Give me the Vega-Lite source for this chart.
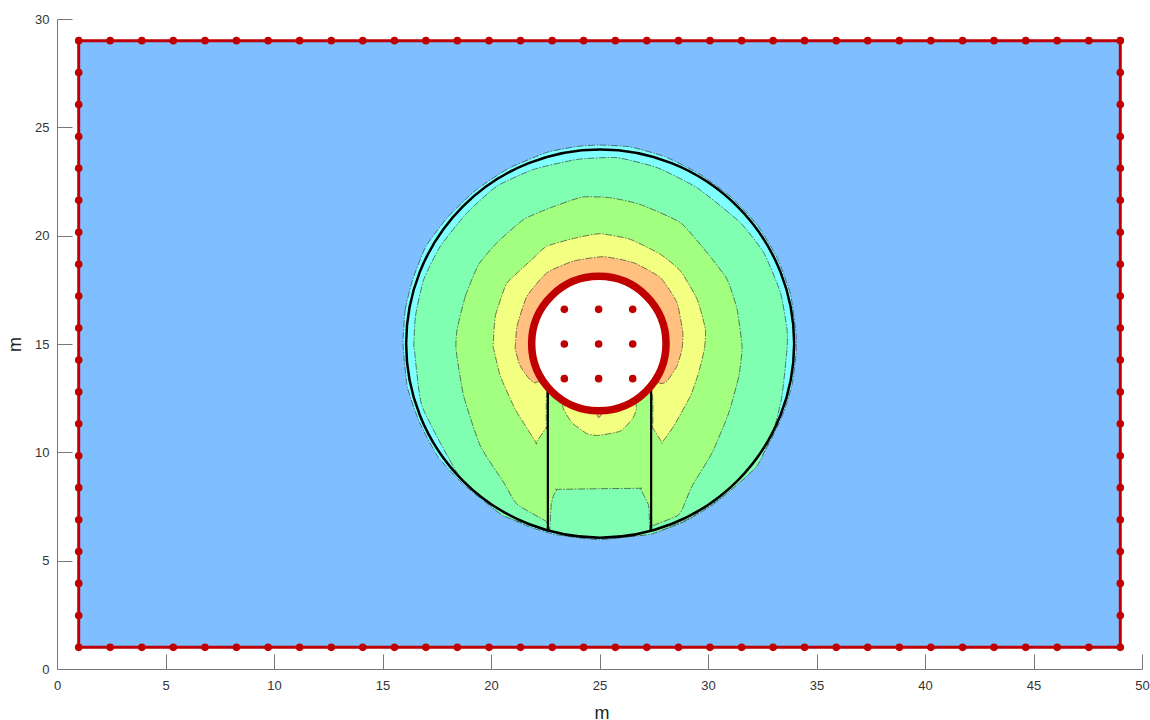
{"$schema":"https://vega.github.io/schema/vega-lite/v6.json","width":1085,"height":650,"autosize":"none","padding":{"left":57,"top":19,"right":8,"bottom":51},"background":"white","config":{"view":{"stroke":null}},
"datasets":{
"box":[{"x0":1,"x1":49,"y0":1,"y1":29}],
"zones":[
{"r":"cyan","l":"a","i":0,"x":15.95,"y":15.0},{"r":"cyan","l":"a","i":1,"x":16.05,"y":16.6},{"r":"cyan","l":"a","i":2,"x":16.4,"y":18.0},{"r":"cyan","l":"a","i":3,"x":17.0,"y":19.5},{"r":"cyan","l":"a","i":4,"x":18.0,"y":20.85},{"r":"cyan","l":"a","i":5,"x":19.3,"y":22.1},{"r":"cyan","l":"a","i":6,"x":20.8,"y":23.1},{"r":"cyan","l":"a","i":7,"x":22.6,"y":23.85},{"r":"cyan","l":"a","i":8,"x":24.0,"y":24.12},{"r":"cyan","l":"a","i":9,"x":25.0,"y":24.18},{"r":"cyan","l":"a","i":10,"x":26.4,"y":24.1},{"r":"cyan","l":"a","i":11,"x":28.0,"y":23.65},{"r":"cyan","l":"a","i":12,"x":29.6,"y":22.85},{"r":"cyan","l":"a","i":13,"x":31.1,"y":21.75},{"r":"cyan","l":"a","i":14,"x":32.3,"y":20.45},{"r":"cyan","l":"a","i":15,"x":33.2,"y":18.95},{"r":"cyan","l":"a","i":16,"x":33.8,"y":17.3},{"r":"cyan","l":"a","i":17,"x":34.05,"y":15.5},{"r":"cyan","l":"a","i":18,"x":34.05,"y":14.5},{"r":"cyan","l":"a","i":19,"x":33.85,"y":13},{"r":"cyan","l":"a","i":20,"x":33.35,"y":11.5},{"r":"cyan","l":"a","i":21,"x":32.55,"y":9.95},{"r":"cyan","l":"a","i":22,"x":31.45,"y":8.65},{"r":"cyan","l":"a","i":23,"x":30.25,"y":7.6},{"r":"cyan","l":"a","i":24,"x":29.0,"y":6.85},{"r":"cyan","l":"a","i":25,"x":28.0,"y":6.45},{"r":"cyan","l":"a","i":26,"x":27.0,"y":6.2},{"r":"cyan","l":"a","i":27,"x":25.0,"y":5.97},{"r":"cyan","l":"a","i":28,"x":23.0,"y":6.2},{"r":"cyan","l":"a","i":29,"x":21.6,"y":6.62},{"r":"cyan","l":"a","i":30,"x":20.2,"y":7.35},{"r":"cyan","l":"a","i":31,"x":18.7,"y":8.55},{"r":"cyan","l":"a","i":32,"x":17.55,"y":9.8},{"r":"cyan","l":"a","i":33,"x":16.7,"y":11.4},{"r":"cyan","l":"a","i":34,"x":16.15,"y":13},
{"r":"g1","l":"b","i":0,"x":16.44,"y":14.9},{"r":"g1","l":"b","i":1,"x":16.52,"y":16.29},{"r":"g1","l":"b","i":2,"x":16.9,"y":17.98},{"r":"g1","l":"b","i":3,"x":17.67,"y":19.52},{"r":"g1","l":"b","i":4,"x":18.9,"y":21.06},{"r":"g1","l":"b","i":5,"x":20.28,"y":22.29},{"r":"g1","l":"b","i":6,"x":21.97,"y":23.06},{"r":"g1","l":"b","i":7,"x":23.97,"y":23.52},{"r":"g1","l":"b","i":8,"x":25.81,"y":23.6},{"r":"g1","l":"b","i":9,"x":27.65,"y":23.14},{"r":"g1","l":"b","i":10,"x":29.5,"y":22.21},{"r":"g1","l":"b","i":11,"x":31.49,"y":20.6},{"r":"g1","l":"b","i":12,"x":32.57,"y":19.21},{"r":"g1","l":"b","i":13,"x":33.34,"y":17.37},{"r":"g1","l":"b","i":14,"x":33.64,"y":15.68},{"r":"g1","l":"b","i":15,"x":33.64,"y":14.75},{"r":"g1","l":"b","i":16,"x":33.41,"y":12.6},{"r":"g1","l":"b","i":17,"x":33.03,"y":11.06},{"r":"g1","l":"b","i":18,"x":32.26,"y":9.37},{"r":"g1","l":"b","i":19,"x":30.72,"y":7.98},{"r":"g1","l":"b","i":20,"x":29.19,"y":6.98},{"r":"g1","l":"b","i":21,"x":27.35,"y":6.22},{"r":"g1","l":"b","i":22,"x":24.89,"y":6.03},{"r":"g1","l":"b","i":23,"x":22.58,"y":6.37},{"r":"g1","l":"b","i":24,"x":20.59,"y":7.06},{"r":"g1","l":"b","i":25,"x":19.82,"y":7.68},{"r":"g1","l":"b","i":26,"x":18.44,"y":9.06},{"r":"g1","l":"b","i":27,"x":16.82,"y":12.14},{"r":"g1","l":"b","i":28,"x":16.47,"y":14.75},
{"r":"g2","l":"c","i":0,"x":18.44,"y":15.68},{"r":"g2","l":"c","i":1,"x":18.82,"y":17.21},{"r":"g2","l":"c","i":2,"x":19.43,"y":18.67},{"r":"g2","l":"c","i":3,"x":20.28,"y":19.68},{"r":"g2","l":"c","i":4,"x":21.51,"y":20.75},{"r":"g2","l":"c","i":5,"x":22.74,"y":21.29},{"r":"g2","l":"c","i":6,"x":24.2,"y":21.78},{"r":"g2","l":"c","i":7,"x":25.5,"y":21.75},{"r":"g2","l":"c","i":8,"x":26.88,"y":21.44},{"r":"g2","l":"c","i":9,"x":28.73,"y":20.6},{"r":"g2","l":"c","i":10,"x":29.96,"y":19.21},{"r":"g2","l":"c","i":11,"x":30.88,"y":17.98},{"r":"g2","l":"c","i":12,"x":31.34,"y":16.6},{"r":"g2","l":"c","i":13,"x":31.57,"y":14.85},{"r":"g2","l":"c","i":14,"x":31.42,"y":13.52},{"r":"g2","l":"c","i":15,"x":30.96,"y":11.83},{"r":"g2","l":"c","i":16,"x":30.19,"y":9.98},{"r":"g2","l":"c","i":17,"x":29.27,"y":8.45},{"r":"g2","l":"c","i":18,"x":28.81,"y":7.37},{"r":"g2","l":"c","i":19,"x":28.57,"y":7.06},{"r":"g2","l":"c","i":20,"x":27.42,"y":6.6},{"r":"g2","l":"c","i":21,"x":27.31,"y":6.45},{"r":"g2","l":"c","i":21.5,"x":27.31,"y":6.45},{"r":"g2","l":"c","i":22,"x":27.27,"y":7.52},{"r":"g2","l":"c","i":22.5,"x":27.05,"y":8.0},{"r":"g2","l":"c","i":23,"x":26.88,"y":8.34},{"r":"g2","l":"c","i":23.2,"x":26.88,"y":8.34},{"r":"g2","l":"c","i":23.5,"x":25,"y":8.32},{"r":"g2","l":"c","i":23.8,"x":23.04,"y":8.29},{"r":"g2","l":"c","i":24,"x":23.04,"y":8.29},{"r":"g2","l":"c","i":24.5,"x":22.88,"y":8.0},{"r":"g2","l":"c","i":25,"x":22.77,"y":7.52},{"r":"g2","l":"c","i":26,"x":22.71,"y":6.45},{"r":"g2","l":"c","i":26.5,"x":22.71,"y":6.45},{"r":"g2","l":"c","i":27,"x":22.51,"y":6.83},{"r":"g2","l":"c","i":28,"x":21.2,"y":7.6},{"r":"g2","l":"c","i":29,"x":20.59,"y":8.6},{"r":"g2","l":"c","i":30,"x":19.51,"y":10.29},{"r":"g2","l":"c","i":31,"x":18.74,"y":12.6},{"r":"g2","l":"c","i":32,"x":18.39,"y":14.75},
{"r":"yel","l":"d","i":0,"x":20.1,"y":14.9},{"r":"yel","l":"d","i":1,"x":20.2,"y":16.29},{"r":"yel","l":"d","i":2,"x":20.66,"y":17.68},{"r":"yel","l":"d","i":3,"x":20.89,"y":17.98},{"r":"yel","l":"d","i":4,"x":21.97,"y":18.98},{"r":"yel","l":"d","i":5,"x":22.58,"y":19.52},{"r":"yel","l":"d","i":6,"x":23.97,"y":19.91},{"r":"yel","l":"d","i":7,"x":25.04,"y":20.09},{"r":"yel","l":"d","i":8,"x":26.42,"y":19.83},{"r":"yel","l":"d","i":9,"x":27.81,"y":19.14},{"r":"yel","l":"d","i":10,"x":28.73,"y":18.37},{"r":"yel","l":"d","i":11,"x":29.5,"y":17.06},{"r":"yel","l":"d","i":12,"x":29.88,"y":15.68},{"r":"yel","l":"d","i":13,"x":29.83,"y":14.75},{"r":"yel","l":"d","i":14,"x":29.57,"y":13.68},{"r":"yel","l":"d","i":15,"x":29.19,"y":12.6},{"r":"yel","l":"d","i":16,"x":28.42,"y":11.21},{"r":"yel","l":"d","i":17,"x":27.88,"y":10.45},{"r":"yel","l":"d","i":17.5,"x":27.88,"y":10.45},{"r":"yel","l":"d","i":18,"x":27.45,"y":11.14},{"r":"yel","l":"d","i":18.5,"x":27.45,"y":11.14},{"r":"yel","l":"d","i":19,"x":27.42,"y":12.68},{"r":"yel","l":"d","i":20,"x":26.58,"y":13.21},{"r":"yel","l":"d","i":21,"x":26.7,"y":12.01},{"r":"yel","l":"d","i":22,"x":26.5,"y":11.52},{"r":"yel","l":"d","i":23,"x":25.96,"y":10.98},{"r":"yel","l":"d","i":24,"x":24.96,"y":10.78},{"r":"yel","l":"d","i":25,"x":24.43,"y":10.86},{"r":"yel","l":"d","i":26,"x":23.73,"y":11.37},{"r":"yel","l":"d","i":27,"x":23.32,"y":12.06},{"r":"yel","l":"d","i":28,"x":23.2,"y":13.21},{"r":"yel","l":"d","i":29,"x":22.58,"y":12.91},{"r":"yel","l":"d","i":30,"x":22.55,"y":11.14},{"r":"yel","l":"d","i":30.5,"x":22.55,"y":11.14},{"r":"yel","l":"d","i":31,"x":22.08,"y":10.45},{"r":"yel","l":"d","i":31.5,"x":22.08,"y":10.45},{"r":"yel","l":"d","i":32,"x":21.12,"y":11.98},{"r":"yel","l":"d","i":33,"x":20.43,"y":13.52},{"r":"yel","l":"d","i":34,"x":20.13,"y":14.75},
{"r":"ora","l":"e","i":0,"x":21.12,"y":14.91},{"r":"ora","l":"e","i":1,"x":21.2,"y":15.83},{"r":"ora","l":"e","i":2,"x":21.66,"y":17.21},{"r":"ora","l":"e","i":3,"x":22.58,"y":18.29},{"r":"ora","l":"e","i":4,"x":23.81,"y":18.83},{"r":"ora","l":"e","i":5,"x":25.19,"y":19.03},{"r":"ora","l":"e","i":6,"x":26.58,"y":18.75},{"r":"ora","l":"e","i":7,"x":27.81,"y":18.06},{"r":"ora","l":"e","i":8,"x":28.57,"y":16.91},{"r":"ora","l":"e","i":9,"x":28.84,"y":15.52},{"r":"ora","l":"e","i":10,"x":28.8,"y":14.75},{"r":"ora","l":"e","i":11,"x":28.57,"y":13.98},{"r":"ora","l":"e","i":12,"x":28.11,"y":13.29},{"r":"ora","l":"e","i":13,"x":27.73,"y":13.21},{"r":"ora","l":"e","i":14,"x":26.12,"y":14.29},{"r":"ora","l":"e","i":15,"x":23.81,"y":14.29},{"r":"ora","l":"e","i":16,"x":22.04,"y":13.21},{"r":"ora","l":"e","i":17,"x":21.35,"y":13.98},{"r":"ora","l":"e","i":18,"x":21.12,"y":14.75},
{"r":"ora2","l":"e","i":0,"x":24.8,"y":11.95},{"r":"ora2","l":"e","i":1,"x":24.97,"y":11.6},{"r":"ora2","l":"e","i":2,"x":25.2,"y":11.95}
],
"walls":[{"x":22.62,"y0":6.35,"y1":12.9},{"x":27.38,"y0":6.35,"y1":12.9}],
"outer":[{"x":25.03,"y":15.02}],
"inner":[{"x":24.97,"y":15.02}],
"nodes":[
{"x":1,"y":29},{"x":2.45,"y":29},{"x":3.91,"y":29},{"x":5.36,"y":29},{"x":6.82,"y":29},{"x":8.27,"y":29},{"x":9.73,"y":29},{"x":11.18,"y":29},{"x":12.64,"y":29},{"x":14.09,"y":29},{"x":15.55,"y":29},{"x":17,"y":29},{"x":18.45,"y":29},{"x":19.91,"y":29},{"x":21.36,"y":29},{"x":22.82,"y":29},{"x":24.27,"y":29},{"x":25.73,"y":29},{"x":27.18,"y":29},{"x":28.64,"y":29},{"x":30.09,"y":29},{"x":31.55,"y":29},{"x":33,"y":29},{"x":34.45,"y":29},{"x":35.91,"y":29},{"x":37.36,"y":29},{"x":38.82,"y":29},{"x":40.27,"y":29},{"x":41.73,"y":29},{"x":43.18,"y":29},{"x":44.64,"y":29},{"x":46.09,"y":29},{"x":47.55,"y":29},{"x":49,"y":29},
{"x":1,"y":1},{"x":2.45,"y":1},{"x":3.91,"y":1},{"x":5.36,"y":1},{"x":6.82,"y":1},{"x":8.27,"y":1},{"x":9.73,"y":1},{"x":11.18,"y":1},{"x":12.64,"y":1},{"x":14.09,"y":1},{"x":15.55,"y":1},{"x":17,"y":1},{"x":18.45,"y":1},{"x":19.91,"y":1},{"x":21.36,"y":1},{"x":22.82,"y":1},{"x":24.27,"y":1},{"x":25.73,"y":1},{"x":27.18,"y":1},{"x":28.64,"y":1},{"x":30.09,"y":1},{"x":31.55,"y":1},{"x":33,"y":1},{"x":34.45,"y":1},{"x":35.91,"y":1},{"x":37.36,"y":1},{"x":38.82,"y":1},{"x":40.27,"y":1},{"x":41.73,"y":1},{"x":43.18,"y":1},{"x":44.64,"y":1},{"x":46.09,"y":1},{"x":47.55,"y":1},{"x":49,"y":1},
{"x":1,"y":27.53},{"x":1,"y":26.05},{"x":1,"y":24.58},{"x":1,"y":23.11},{"x":1,"y":21.63},{"x":1,"y":20.16},{"x":1,"y":18.68},{"x":1,"y":17.21},{"x":1,"y":15.74},{"x":1,"y":14.26},{"x":1,"y":12.79},{"x":1,"y":11.32},{"x":1,"y":9.84},{"x":1,"y":8.37},{"x":1,"y":6.89},{"x":1,"y":5.42},{"x":1,"y":3.95},{"x":1,"y":2.47},
{"x":49,"y":27.53},{"x":49,"y":26.05},{"x":49,"y":24.58},{"x":49,"y":23.11},{"x":49,"y":21.63},{"x":49,"y":20.16},{"x":49,"y":18.68},{"x":49,"y":17.21},{"x":49,"y":15.74},{"x":49,"y":14.26},{"x":49,"y":12.79},{"x":49,"y":11.32},{"x":49,"y":9.84},{"x":49,"y":8.37},{"x":49,"y":6.89},{"x":49,"y":5.42},{"x":49,"y":3.95},{"x":49,"y":2.47},
{"x":23.38,"y":16.6},{"x":24.96,"y":16.6},{"x":26.53,"y":16.6},{"x":23.38,"y":15},{"x":24.96,"y":15},{"x":26.53,"y":15},{"x":23.38,"y":13.4},{"x":24.96,"y":13.4},{"x":26.53,"y":13.4}
]},
"layer":[
{"data":{"name":"box"},"mark":{"type":"rect","fill":"#80BFFF","stroke":"#C00000","strokeWidth":3},"encoding":{
"x":{"field":"x0","type":"quantitative","scale":{"domain":[0,50],"nice":false,"zero":false},"axis":{"title":"m","titleFont":"Liberation Sans","titleFontSize":18,"titleFontWeight":"normal","titleColor":"#222","titleBaseline":"alphabetic","titleY":49.5,"titleX":544.5,"values":[0,5,10,15,20,25,30,35,40,45,50],"tickSize":-15,"tickColor":"#777","domainColor":"#777","labelFont":"Liberation Sans","labelFontSize":13,"labelColor":"#333","labelPadding":25,"labelFlush":false,"labelOverlap":false,"labelBound":false,"grid":false}},
"x2":{"field":"x1"},
"y":{"field":"y0","type":"quantitative","scale":{"domain":[0,30],"nice":false,"zero":false},"axis":{"title":"m","titleFont":"Liberation Sans","titleFontSize":18,"titleFontWeight":"normal","titleColor":"#222","titleBaseline":"alphabetic","titleX":-36.5,"values":[0,5,10,15,20,25,30],"tickSize":-15,"tickColor":"#777","domainColor":"#777","labelFont":"Liberation Sans","labelFontSize":13,"labelColor":"#333","labelPadding":23,"labelFlush":false,"labelOverlap":false,"labelBound":false,"grid":false}},
"y2":{"field":"y1"}}},
{"data":{"name":"zones"},"mark":{"type":"line","interpolate":"cardinal-closed","tension":0.5,"filled":true,"stroke":"#222","strokeWidth":0.6,"strokeDash":[7,1.5,1.5,1.5]},"encoding":{
"x":{"field":"x","type":"quantitative"},"y":{"field":"y","type":"quantitative"},
"detail":{"field":"r"},"order":{"field":"i","type":"quantitative"},
"fill":{"field":"l","type":"nominal","legend":null,"scale":{"domain":["a","b","c","d","e"],"range":["#80FFFF","#80FFB3","#A3FF80","#F2FF80","#FFC080"]}}}},
{"data":{"name":"outer"},"mark":{"type":"point","filled":false,"stroke":"#000","strokeWidth":2.5,"size":150544,"opacity":1},"encoding":{"x":{"field":"x","type":"quantitative"},"y":{"field":"y","type":"quantitative"}}},
{"data":{"name":"walls"},"mark":{"type":"rule","stroke":"#000","strokeWidth":2.2},"encoding":{"x":{"field":"x","type":"quantitative"},"y":{"field":"y0","type":"quantitative"},"y2":{"field":"y1"}}},
{"data":{"name":"inner"},"mark":{"type":"point","filled":true,"fill":"#FFFFFF","stroke":"#C00000","strokeWidth":7.5,"size":18063,"opacity":1},"encoding":{"x":{"field":"x","type":"quantitative"},"y":{"field":"y","type":"quantitative"}}},
{"data":{"name":"nodes"},"mark":{"type":"point","filled":true,"fill":"#C00000","stroke":null,"size":58,"opacity":1},"encoding":{"x":{"field":"x","type":"quantitative"},"y":{"field":"y","type":"quantitative"}}}
]}
